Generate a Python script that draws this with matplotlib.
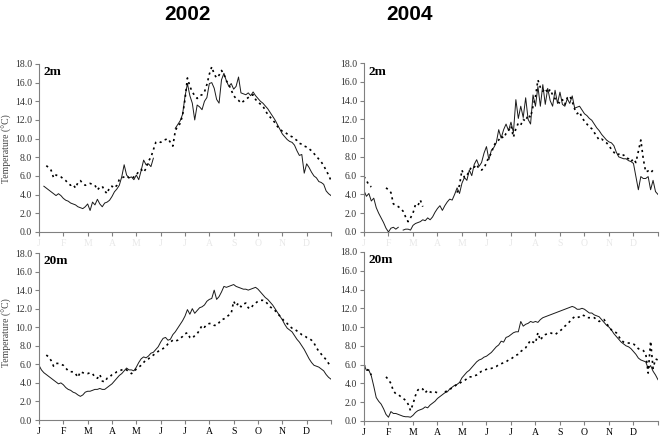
import numpy as np
import matplotlib.pyplot as plt

nan = np.nan

# time axis: months from 1 January, sampled every 0.1 month
months = np.linspace(0, 12, 121)
month_labels = ["J", "F", "M", "A", "M", "J", "J", "A", "S", "O", "N", "D"]
yticks = np.arange(0, 19, 2)

# 2002, 2 m (solid / dashed)
s02_2m = [nan, nan, 4.9, 4.7, 4.5, 4.3, 4.1, 3.9, 4.1, 3.9,
          3.6, 3.4, 3.3, 3.1, 3.0, 2.9, 2.7, 2.6, 2.5, 2.7,
          3.0, 2.3, 3.2, 2.9, 3.5, 3.0, 2.7, 3.1, 3.2, 3.4,
          3.8, 4.3, 4.6, 5.0, 5.9, 7.2, 6.1, 5.8, 5.9, 5.6,
          6.1, 5.6, 6.6, 7.7, 7.2, 7.3, 7.0, 7.9, nan, nan,
          nan, nan, nan, nan, nan, nan, 11.1, 11.5, 11.9, 12.6,
          14.5, 15.9, 14.6, 13.8, 12.0, 13.6, 13.4, 13.1, 14.0, 14.4,
          15.9, 16.0, 15.4, 14.2, 13.8, 16.3, 17.0, 16.2, 15.6, 15.9,
          15.3, 15.6, 16.6, 14.9, 14.8, 14.7, 14.9, 14.6, 15.0, 14.6,
          14.3, 14.0, 13.8, 13.5, 13.2, 12.8, 12.4, 12.0, 11.5, 11.0,
          10.5, 10.2, 9.9, 9.7, 9.6, 9.3, 8.7, 8.2, 8.3, 6.3,
          7.3, 6.9, 6.4, 6.0, 5.8, 5.4, 5.3, 5.1, 4.4, 4.1,
          3.9]
d02_2m = [nan, nan, nan, 7.1, 6.9, 6.6, 5.8, 6.1, 6.0, 5.9,
          5.7, 5.5, 5.2, 5.0, 5.1, 4.7, 5.3, 5.5, 5.2, 5.0,
          5.1, 5.2, 5.1, 5.0, 4.5, 4.8, 4.9, 4.4, 4.1, 4.8,
          4.9, 4.7, 5.0, 5.6, 5.8, 5.9, 6.0, 5.8, 5.7, 5.9,
          6.1, 6.5, 6.7, 6.4, 6.8, 7.6, 8.0, 8.8, 9.6, 9.7,
          9.6, 9.8, 9.9, 10.0, 9.6, 9.2, 10.8, 11.4, 11.6, 12.5,
          14.2, 16.5, 15.6, 15.0, 14.6, 14.3, 14.6, 14.7, 15.0, 15.8,
          16.9, 17.7, 16.9, 16.5, 16.8, 17.3, 16.9, 16.2, 15.8, 15.2,
          14.6, 14.3, 14.1, 13.8, 14.0, 14.2, 14.4, 14.6, 14.7, 14.2,
          13.9, 13.7, 13.5, 13.0, 12.6, 12.3, 12.0, 11.7, 11.3, 11.0,
          10.8, 10.7, 10.5, 10.3, 10.2, 10.0, 9.8, 9.5, 9.4, 9.2,
          9.1, 8.9, 8.7, 8.4, 8.1, 7.8, 7.5, 7.1, 6.6, 6.1,
          5.5]

# 2004, 2 m
s04_2m = [4.4, 3.8, 4.1, 3.3, 3.6, 2.6, 2.0, 1.5, 1.0, 0.4,
          0.0, 0.4, 0.5, 0.3, 0.5, nan, 0.2, 0.3, 0.3, 0.2,
          0.7, 0.9, 1.0, 1.1, 1.3, 1.2, 1.5, 1.3, 1.6, 2.1,
          2.5, 2.8, 2.3, 2.8, 3.2, 3.5, 3.4, 4.0, 4.7, 4.1,
          5.2, 5.8, 5.5, 6.6, 6.0, 7.2, 7.7, 7.0, 7.4, 8.4,
          9.1, 7.7, 8.7, 9.0, 9.5, 10.9, 10.0, 10.9, 11.5, 10.8,
          11.7, 10.6, 14.1, 12.1, 13.4, 12.2, 14.3, 12.0, 11.5, 14.6,
          13.4, 15.5, 13.4, 15.7, 13.6, 15.3, 14.0, 13.4, 15.1, 13.7,
          14.9, 13.6, 13.4, 14.2, 13.7, 14.5, 13.2, 13.3, 13.4, 13.0,
          12.6, 12.4, 12.1, 11.9, 11.5, 11.1, 10.8, 10.4, 10.1, 9.8,
          9.6, 9.5, 9.2, 8.5, 8.0, 7.9, 7.8, 7.8, 7.6, 7.5,
          7.3, 5.9, 4.5, 5.9, 5.7, 5.7, 5.9, 4.5, 5.5, 4.3,
          4.0]
d04_2m = [5.9, 5.5, 5.0, 4.8, nan, nan, nan, nan, nan, 4.7,
          4.5, 4.2, 3.0, 2.8, 2.7, 2.5, 2.2, 1.6, 1.1, 1.5,
          2.0, 2.9, 2.8, 3.4, 2.7, nan, nan, nan, nan, nan,
          nan, nan, nan, nan, nan, nan, nan, nan, 4.2, 5.0,
          6.6, 5.8, 6.0, 6.5, 7.0, 6.9, 7.2, 6.7, 6.6, 6.8,
          7.4, 8.0, 8.4, 9.2, 9.6, 9.8, 10.2, 10.0, 10.5, 10.8,
          11.3, 10.1, 11.0, 11.6, 11.4, 12.0, 11.8, 12.5, 12.2, 13.4,
          14.4, 16.2, 15.4, 15.0, 15.3, 14.8, 15.2, 14.6, 14.2, 13.9,
          13.7, 14.1, 13.6, 14.3, 14.5, 13.9, 13.1, 12.6, 12.8, 12.2,
          11.8, 11.5, 11.2, 11.0, 10.6, 10.2, 9.8, 9.9, 9.7, 9.5,
          9.2, 8.8, 8.5, 8.2, 8.3, 8.1, 8.2, 7.9, 7.8, 7.5,
          7.8, 7.4, 8.6, 9.8, 7.8, 6.4, 6.5, 6.3, 6.6, 6.8,
          nan]

# 2002, 20 m
s02_20m = [5.9, 5.4, 5.1, 4.9, 4.7, 4.5, 4.3, 4.1, 3.9, 4.0,
           3.8, 3.5, 3.3, 3.2, 3.0, 2.9, 2.7, 2.55, 2.7, 3.0,
           3.1, 3.1, 3.2, 3.3, 3.3, 3.4, 3.3, 3.3, 3.5, 3.7,
           3.9, 4.2, 4.5, 4.8, 5.0, 5.3, 5.6, 5.4, 5.4, 5.3,
           5.7, 6.2, 6.6, 6.8, 6.7, 6.9, 7.2, 7.3, 7.6, 7.9,
           8.4, 8.8, 8.9, 8.6, 8.7, 9.2, 9.5, 9.9, 10.3, 10.7,
           11.2, 11.9, 11.4, 12.0, 11.5, 11.8, 12.1, 12.2, 12.4, 12.8,
           13.0, 13.1, 14.0, 13.0, 13.3, 13.8, 14.4, 14.3, 14.4, 14.5,
           14.6, 14.4, 14.3, 14.2, 14.1, 14.1, 14.0, 14.1, 14.2, 14.3,
           14.1, 13.8, 13.5, 13.2, 13.0, 12.7, 12.4, 12.0, 11.6, 11.2,
           10.8, 10.3, 9.9, 9.7, 9.5, 9.1, 8.7, 8.4, 8.0, 7.6,
           7.1, 6.6, 6.2, 5.9, 5.8, 5.7, 5.5, 5.3, 4.9, 4.6,
           4.4]
d02_20m = [nan, nan, nan, 7.0, 6.8, 6.4, 5.8, 6.1, 6.1, 6.0,
           5.9, 5.6, 5.3, 5.2, 5.2, 5.0, 4.6, 5.2, 5.1, 5.0,
           5.0, 5.1, 5.0, 4.6, 4.5, 4.9, 4.2, 4.1, 4.5, 4.6,
           4.9, 5.0, 5.2, 5.3, 5.4, 5.5, 5.4, 5.2, 5.0, 5.2,
           5.5, 5.7, 5.9, 6.2, 6.5, 6.6, 6.8, 7.0, 7.2, 7.4,
           7.6, 7.7, 7.9, 8.2, 8.4, 8.6, 8.5, 8.6, 8.8, 9.0,
           9.3, 9.4, 8.9, 8.8, 9.1, 9.3, 9.7, 10.2, 10.0, 10.3,
           10.4, 10.4, 10.2, 10.2, 10.5, 10.8, 10.9, 11.1, 11.3, 11.5,
           12.8, 12.3, 12.6, 12.2, 12.5, 12.6, 12.1, 12.0, 12.4, 12.6,
           12.8, 12.9, 12.9, 12.8, 12.5, 12.2, 12.0, 11.8, 11.5, 11.2,
           10.9, 10.6, 10.4, 10.1, 9.9, 9.8, 9.6, 9.4, 9.2, 9.1,
           8.9, 8.8, 8.6, 8.3, 7.8, 7.4, 7.1, 6.8, 6.5, 6.1,
           5.8]

# 2004, 20 m
s04_20m = [6.0, 5.4, 5.4, 4.8, 3.7, 2.5, 2.1, 1.8, 1.3, 0.7,
           0.4, 1.0, 0.8, 0.8, 0.7, 0.6, 0.5, 0.45, 0.45, 0.4,
           0.6, 0.9, 1.1, 1.2, 1.3, 1.5, 1.4, 1.7, 1.9, 2.1,
           2.4, 2.6, 2.8, 3.0, 3.1, 3.4, 3.6, 3.8, 3.9, 4.1,
           4.6, 4.9, 5.2, 5.4, 5.7, 6.0, 6.3, 6.5, 6.6, 6.8,
           6.9, 7.1, 7.3, 7.6, 7.9, 8.1, 8.5, 8.4, 8.9, 9.0,
           9.2, 9.4, 9.5, 9.5, 10.6, 10.1, 10.3, 10.4, 10.6, 10.5,
           10.6, 10.5, 10.8, 11.0, 11.1, 11.2, 11.3, 11.4, 11.5, 11.6,
           11.7, 11.8, 11.9, 12.0, 12.1, 12.2, 12.1, 11.9, 11.9, 12.0,
           11.9, 11.7, 11.5, 11.5, 11.3, 11.2, 11.1, 10.8, 10.5, 10.2,
           10.0, 9.7, 9.3, 9.0, 8.7, 8.4, 8.2, 8.0, 7.9, 7.7,
           7.4, 7.1, 6.7, 6.5, 6.4, 6.3, 5.6, 5.9, 5.3, 4.9,
           4.4]
d04_20m = [6.0, 5.5, 5.4, 4.9, nan, nan, nan, nan, nan, 4.7,
           4.4, 4.0, 3.2, 2.9, 2.8, 2.6, 2.4, 2.2, 1.8, 1.1,
           1.8, 2.7, 3.3, 3.5, 3.4, 3.0, 3.3, 3.1, 3.0, 3.1,
           3.0, nan, nan, 3.1, 3.2, 3.4, 3.5, 3.7, 3.9, 4.0,
           4.2, 4.3, 4.5, 4.7, 4.7, 4.8, 4.9, 5.1, 5.3, 5.4,
           5.5, 5.6, 5.6, 5.7, 5.8, 6.0, 6.1, 6.2, 6.3, 6.5,
           6.6, 6.8, 7.0, 7.1, 7.4, 7.6, 7.8, 8.2, 8.6, 8.4,
           8.3, 9.4, 8.6, 9.0, 9.2, 9.3, 9.4, 9.3, 9.2, 9.4,
           9.6, 9.8, 10.1, 10.3, 10.6, 10.9, 11.1, 11.0, 11.1, 11.3,
           11.2, 11.0, 11.0, 11.0, 11.0, 10.8, 10.6, 10.7, 10.8, 10.4,
           10.0, 9.7, 9.5, 9.4, 9.0, 8.6, 8.4, 8.3, 8.3, 8.3,
           8.2, 8.0, 7.7, 7.6, 7.5, 7.2, 5.1, 8.5, 5.6, 6.6,
           6.5]

SERIF = "Liberation Serif"

fig = plt.figure(figsize=(6.62, 4.41), dpi=100)

# rect, solid, dashed, depth label, month label colour
panels = [
    ([0.0589, 0.474, 0.4411, 0.381], s02_2m, d02_2m, "2m", "#e8e8e8"),
    ([0.5498, 0.474, 0.4441, 0.383], s04_2m, d04_2m, "2m", "#e8e8e8"),
    ([0.0589, 0.0476, 0.4411, 0.3787], s02_20m, d02_20m, "20m", "black"),
    ([0.5498, 0.0454, 0.4441, 0.3832], s04_20m, d04_20m, "20m", "black"),
]

for rect, solid, dashed, depth, mcol in panels:
    ax = fig.add_axes(rect)
    ax.plot(months, solid, color="#1a1a1a", lw=0.7)
    ax.plot(months, dashed, color="black", lw=1.2, dashes=(1.3, 2.2))
    ax.set_xlim(0, 12)
    ax.set_ylim(0, 18)
    ax.set_yticks(yticks)
    ax.set_yticklabels([f"{v:.1f}" for v in yticks], fontsize=7,
                       family=SERIF, color="#333333")
    ax.set_xticks(np.arange(13))
    ax.set_xticklabels(month_labels + [""], fontsize=7, family=SERIF,
                       color=mcol)
    for side in ("top", "right"):
        ax.spines[side].set_visible(False)
    for side in ("left", "bottom"):
        ax.spines[side].set_color("#808080")
        ax.spines[side].set_linewidth(0.8)
    ax.tick_params(direction="out", length=3, width=0.8, color="#808080",
                   pad=2)
    ax.text(0.015, 0.95, depth, transform=ax.transAxes, fontsize=9.5,
            fontweight="bold", family=SERIF, va="center", ha="left")

fig.text(0.011, 0.664, "Temperature (\u00b0C)", rotation=90, fontsize=7,
         family=SERIF, color="#444444", va="center", ha="center")
fig.text(0.011, 0.245, "Temperature (\u00b0C)", rotation=90, fontsize=7,
         family=SERIF, color="#444444", va="center", ha="center")

fig.text(0.2825, 0.968, "2002", fontsize=15, fontweight="bold",
         family="Liberation Sans", ha="center", va="center")
fig.text(0.619, 0.968, "2004", fontsize=15, fontweight="bold",
         family="Liberation Sans", ha="center", va="center")

fig.savefig("out.png", dpi=100)
